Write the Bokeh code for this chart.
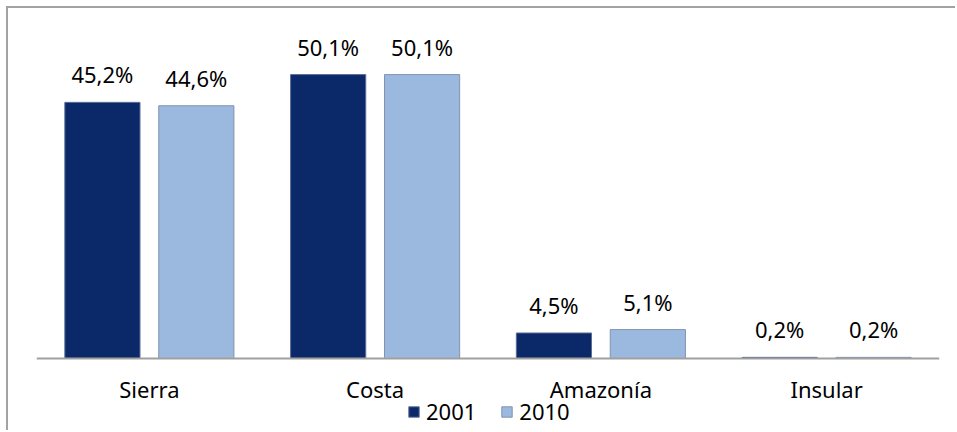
from bokeh.plotting import figure
from bokeh.models import FactorRange, Range1d, ColumnDataSource, LabelSet, Legend, LegendItem
from bokeh.transform import dodge
from bokeh.core.properties import value
from bokeh.embed import file_html
from bokeh.resources import INLINE

regions = ["Sierra", "Costa", "Amazonía", "Insular"]
v2001 = [45.2, 50.1, 4.5, 0.2]
v2010 = [44.6, 50.1, 5.1, 0.2]
series_names = ["2001", "2010"]

FONT = "Noto Sans"
DARK = "#0b2868"
LIGHT = "#9bb9de"

def fmt(v):
    return ("%.1f" % v).replace(".", ",") + "%"

src = ColumnDataSource(dict(
    region=regions,
    v2001=v2001,
    v2010=v2010,
    l2001=[fmt(v) for v in v2001],
    l2010=[fmt(v) for v in v2010],
))

p = figure(
    x_range=FactorRange(factors=regions),
    y_range=Range1d(-13.06, 60),
    width=949, height=424,
    output_backend="svg", toolbar_location=None,
    min_border_left=28, min_border_right=18,
    min_border_top=10, min_border_bottom=0,
)
p.styles = {"border-left": "2px solid #a3a3a3", "border-top": "2px solid #a3a3a3",
            "margin-left": "6px", "margin-top": "6px"}
p.outline_line_color = None
p.grid.visible = False
p.yaxis.visible = False

off = 0.208
w = 0.333
r1 = p.vbar(x=dodge("region", -off, range=p.x_range), top="v2001", width=w, source=src,
            fill_color=DARK, line_color="#5a6e96", line_width=1)
r2 = p.vbar(x=dodge("region", off, range=p.x_range), top="v2010", width=w, source=src,
            fill_color=LIGHT, line_color="#7f93b0", line_width=1)

for col, o in (("l2001", -off), ("l2010", off)):
    y = "v2001" if col == "l2001" else "v2010"
    lbl = LabelSet(x=dodge("region", o, range=p.x_range), y=y, text=col, source=src,
                   text_align="center", text_baseline="alphabetic", y_offset=19,
                   text_font=value(FONT), text_font_size="22px", text_color="#000000")
    p.add_layout(lbl)

ax = p.xaxis[0]
ax.fixed_location = 0
ax.axis_line_color = "#a0a0a0"
ax.axis_line_width = 2
ax.major_tick_line_color = None
ax.minor_tick_line_color = None
ax.major_label_standoff = 10
ax.major_label_text_font = FONT
ax.major_label_text_font_size = "22px"
ax.major_label_text_color = "#000000"

legend = Legend(items=[LegendItem(label=series_names[0], renderers=[r1]),
                       LegendItem(label=series_names[1], renderers=[r2])],
                orientation="horizontal", location=(371, 6),
                glyph_width=13, glyph_height=13, label_standoff=6, spacing=24,
                padding=0, margin=0, border_line_color=None,
                background_fill_alpha=0,
                label_text_font=FONT, label_text_font_size="22px",
                label_text_color="#000000",
                label_height=22)
p.add_layout(legend, "center")

open("out.html", "w").write(file_html(p, INLINE))
